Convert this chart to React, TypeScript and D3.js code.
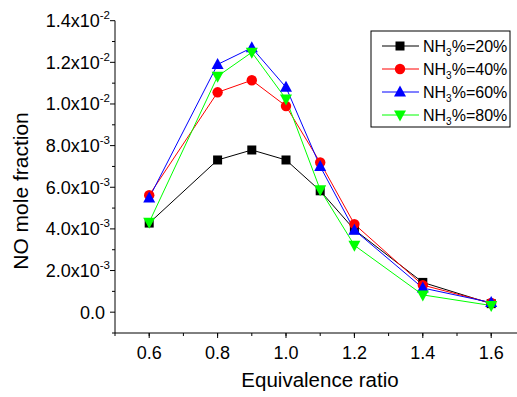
import React from "react";
import * as d3 from "d3";

const phi = [0.6, 0.8, 0.9, 1.0, 1.1, 1.2, 1.4, 1.6];
const nh3_20 = [0.00428, 0.00731, 0.00779, 0.00731, 0.00583, 0.00396, 0.00143, 0.00041];
const nh3_40 = [0.00562, 0.01056, 0.01114, 0.0099, 0.00719, 0.00423, 0.0013, 0.00044];
const nh3_60 = [0.00549, 0.0119, 0.0127, 0.0108, 0.0070, 0.00394, 0.00116, 0.00046];
const nh3_80 = [0.00432, 0.01133, 0.01248, 0.01024, 0.00588, 0.00321, 0.00083, 0.00032];
const seriesNames = ["20%", "40%", "60%", "80%"];
const seriesColors = ["#000000", "#ff0000", "#0000ff", "#00ff00"];
const seriesShapes = ["square", "circle", "up", "down"];
const xTickValues = [0.6, 0.8, 1.0, 1.2, 1.4, 1.6];
const yTickValues = [0, 0.002, 0.004, 0.006, 0.008, 0.01, 0.012, 0.014];

const W = 517;
const H = 397;
const FONT = "Liberation Sans, Arial, sans-serif";

function Marker({ shape, x, y, color }: { shape: string; x: number; y: number; color: string }) {
  if (shape === "square") return <rect x={x - 4.5} y={y - 4.5} width={9} height={9} fill={color} />;
  if (shape === "circle") return <circle cx={x} cy={y} r={5.2} fill={color} />;
  if (shape === "up") {
    const p = d3.path();
    p.moveTo(x, y - 6.5);
    p.lineTo(x + 6, y + 4.5);
    p.lineTo(x - 6, y + 4.5);
    p.closePath();
    return <path d={p.toString()} fill={color} />;
  }
  const p = d3.path();
  p.moveTo(x, y + 6.5);
  p.lineTo(x + 6, y - 4.5);
  p.lineTo(x - 6, y - 4.5);
  p.closePath();
  return <path d={p.toString()} fill={color} />;
}

function yLabel(v: number) {
  if (Math.abs(v) < 1e-12) return { m: "0.0", e: null as string | null };
  const e = Math.floor(Math.log10(v) + 1e-9);
  const m = v / Math.pow(10, e);
  return { m: m.toFixed(1) + "x10", e: String(e) };
}

export default function App() {
  const x = d3.scaleLinear().domain([0.5, 1.7]).range([115, 525.4]);
  const y = d3.scaleLinear().domain([-0.001, 0.014]).range([333, 20.7]);
  const all = [nh3_20, nh3_40, nh3_60, nh3_80];
  const line = d3
    .line<[number, number]>()
    .x((d) => x(d[0]))
    .y((d) => y(d[1]));
  const xMinor = d3.range(5, 17).map((i) => i / 10);
  const yMinor = d3.range(-1, 15, 2).map((i) => i * 0.001);
  const x0 = x(0.5);
  const yb = y(-0.001);

  const legX = 371;
  const legY = 31;
  const legW = 139;
  const legH = 96;

  return (
    <svg width={W} height={H} style={{ position: "absolute", left: 0, top: 0, background: "#fff" }} fontFamily={FONT}>
      <rect width={W} height={H} fill="#fff" />
      {/* axes */}
      <line x1={x0} x2={x0} y1={y(0.014)} y2={yb} stroke="#000" strokeWidth={1} />
      <line x1={x0} x2={W} y1={yb} y2={yb} stroke="#000" strokeWidth={1} />
      {yTickValues.map((v) => (
        <line key={"ym" + v} x1={x0 - 5} x2={x0} y1={y(v)} y2={y(v)} stroke="#000" />
      ))}
      {yMinor.map((v) => (
        <line key={"yn" + v} x1={x0 - 3} x2={x0} y1={y(v)} y2={y(v)} stroke="#000" />
      ))}
      {xMinor.map((v) => (
        <line key={"xn" + v} x1={x(v)} x2={x(v)} y1={yb} y2={yb + 3} stroke="#000" />
      ))}
      {xTickValues.map((v) => (
        <line key={"xm" + v} x1={x(v)} x2={x(v)} y1={yb} y2={yb + 5} stroke="#000" />
      ))}
      {xTickValues.map((v) => (
        <text key={"xl" + v} x={x(v)} y={359} textAnchor="middle" fontSize={18}>
          {v.toFixed(1)}
        </text>
      ))}
      {yTickValues.map((v) => {
        const l = yLabel(v);
        return (
          <text key={"yl" + v} x={l.e === null ? 105 : 110} y={y(v) + 6.5} textAnchor="end" fontSize={18}>
            {l.m}
            {l.e !== null && (
              <tspan fontSize={11.5} dy={-8}>
                {l.e}
              </tspan>
            )}
          </text>
        );
      })}
      <text x={320} y={387} textAnchor="middle" fontSize={20.5}>
        Equivalence ratio
      </text>
      <text transform={`translate(28,191) rotate(-90)`} textAnchor="middle" fontSize={21}>
        NO mole fraction
      </text>
      {/* series */}
      {all.map((s, i) => (
        <path
          key={"l" + i}
          d={line(phi.map((p, j) => [p, s[j]] as [number, number])) || ""}
          fill="none"
          stroke={seriesColors[i]}
          strokeWidth={1}
        />
      ))}
      {all.map((s, i) => (
        <g key={"m" + i}>
          {phi.map((p, j) => (
            <Marker key={j} shape={seriesShapes[i]} x={x(p)} y={y(s[j])} color={seriesColors[i]} />
          ))}
        </g>
      ))}
      {/* legend */}
      <rect x={legX} y={legY} width={legW} height={legH} fill="#fff" stroke="#000" strokeWidth={1} />
      {seriesNames.map((n, i) => {
        const cy = legY + 15 + i * 23;
        return (
          <g key={"lg" + i}>
            <line x1={382} x2={419} y1={cy} y2={cy} stroke={seriesColors[i]} strokeWidth={1} />
            <Marker shape={seriesShapes[i]} x={400} y={cy} color={seriesColors[i]} />
            <text x={423} y={cy + 6} fontSize={16}>
              NH
              <tspan fontSize={10} dy={4}>
                3
              </tspan>
              <tspan dy={-4}>%={n}</tspan>
            </text>
          </g>
        );
      })}
    </svg>
  );
}
